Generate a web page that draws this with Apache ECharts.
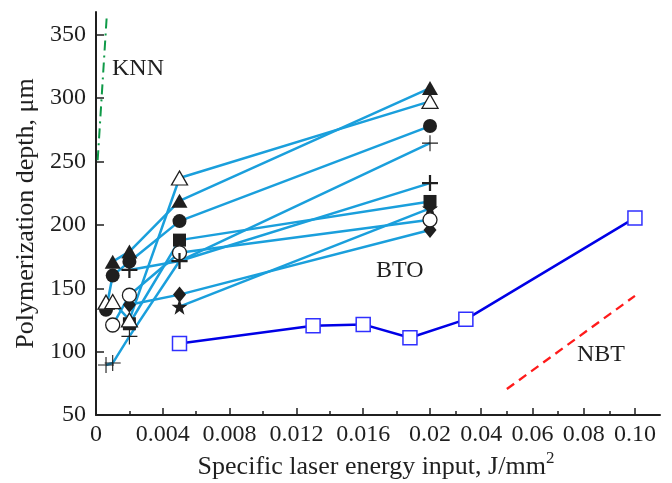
<!DOCTYPE html>
<html>
<head>
<meta charset="utf-8">
<script src="https://cdn.jsdelivr.net/npm/echarts@6/dist/echarts.min.js"></script>
<style>
html, body { margin: 0; padding: 0; background: #fff; }
#chart { width: 672px; height: 483px; }
</style>
</head>
<body>
<div id="chart"></div>
<script>
// axis ticks (x axis is broken: fine scale up to 0.02, coarse after)
var xTicks = [0, 0.004, 0.008, 0.012, 0.016, 0.02, 0.04, 0.06, 0.08, 0.10];
var xMinor = [0.002, 0.006, 0.01, 0.014, 0.018, 0.03, 0.05, 0.07, 0.09];
var yTicks = [50, 100, 150, 200, 250, 300, 350];

// BTO series, [energy J/mm2, depth um]
var btoFilledTriangle = [[0.001, 171], [0.002, 179], [0.005, 219], [0.02, 308]];
var btoOpenTriangle = [[0.0006, 139], [0.001, 139.5], [0.002, 125], [0.005, 237], [0.02, 297.5]];
var btoFilledCircle = [[0.0006, 133], [0.001, 160], [0.002, 171], [0.005, 203], [0.02, 278]];
var btoOpenCircle = [[0.001, 121], [0.002, 144.5], [0.005, 178], [0.02, 204]];
var btoFilledSquare = [[0.002, 122], [0.005, 188], [0.02, 218.5]];
var btoBoldPlus = [[0.002, 164.5], [0.005, 171.5], [0.02, 233]];
var btoThinPlus = [[0.0006, 89.5], [0.001, 91], [0.002, 112], [0.005, 171.5], [0.02, 264.5]];
var btoDiamond = [[0.002, 137], [0.005, 145], [0.02, 196]];
var btoStar = [[0.005, 135.5], [0.02, 213]];

// NBT measured and trend, KNN trend
var nbtMeasured = [[0.005, 106.5], [0.013, 120.5], [0.016, 121.5], [0.0188, 111], [0.034, 125.5], [0.10, 205.5]];
var nbtTrend = [[0.05, 70.5], [0.10, 144]];
var knnTrend = [[0.0001, 251], [0.00065, 366]];

// broken x scale: one axis unit = 0.004 below 0.02, above it 0.02 takes 0.767 units
var BREAK = 0.02, FINE = 0.004, COARSE = 0.02 / 0.767;
function toAxis(x) {
  return x <= BREAK ? x / FINE : BREAK / FINE + (x - BREAK) / COARSE;
}
function fromAxis(u) {
  return u <= BREAK / FINE ? u * FINE : BREAK + (u - BREAK / FINE) * COARSE;
}
function mapData(arr) {
  return arr.map(function (p) { return [toAxis(p[0]), p[1]]; });
}

var ink = '#1f1f1f';
var serif = 'Liberation Serif';
var thinPlus = 'path://M0,9.3h20v1.4h-20z M9.3,0h1.4v20h-1.4z';
var boldPlus = 'path://M0,8.6h20v2.8h-20z M8.6,0h2.8v20h-2.8z';
var star = 'path://M10,0L12.35,6.76L19.51,6.91L13.8,11.24L15.88,18.09L10,14L4.12,18.09L6.2,11.24L0.49,6.91L7.65,6.76Z';

var btoSets = [
  { data: btoThinPlus, symbol: thinPlus, size: 16, open: false },
  { data: btoStar, symbol: star, size: 16, open: false },
  { data: btoDiamond, symbol: 'diamond', size: [13, 16], open: false },
  { data: btoFilledSquare, symbol: 'rect', size: 13, open: false },
  { data: btoOpenCircle, symbol: 'circle', size: 14, open: true },
  { data: btoBoldPlus, symbol: boldPlus, size: 16, open: false },
  { data: btoFilledCircle, symbol: 'circle', size: 14, open: false },
  { data: btoOpenTriangle, symbol: 'triangle', size: [16, 14], open: true },
  { data: btoFilledTriangle, symbol: 'triangle', size: [16, 14], open: false }
];

var myChart = echarts.init(document.getElementById('chart'));

var series = [];
btoSets.forEach(function (s) {
  series.push({
    type: 'line', data: mapData(s.data),
    symbol: 'none', clip: false, z: 2,
    lineStyle: { color: '#1a9fdc', width: 2.5 }
  });
});
btoSets.forEach(function (s) {
  series.push({
    type: 'scatter', data: mapData(s.data),
    symbol: s.symbol, symbolSize: s.size, clip: false, z: 4,
    itemStyle: s.open
      ? { color: '#fff', borderColor: ink, borderWidth: 1.3, opacity: 1 }
      : { color: ink, opacity: 1 }
  });
});
series.push({
  type: 'line', data: mapData(nbtMeasured),
  symbol: 'rect', symbolSize: 14, clip: false, z: 3,
  lineStyle: { color: '#0000e6', width: 2.5 },
  itemStyle: { color: '#fff', borderColor: '#3030ff', borderWidth: 1.5 }
});
series.push({
  type: 'line', data: mapData(nbtTrend),
  symbol: 'none', clip: false,
  lineStyle: { color: '#ff1a1a', width: 2.3, type: [9, 6] }
});
series.push({
  type: 'line', data: mapData(knnTrend),
  symbol: 'none', clip: false,
  lineStyle: { color: '#0f9a48', width: 2, type: [10, 5, 2, 5] }
});

var labelStyle = { color: ink, fontFamily: serif, fontSize: 24 };
var tickLine = { color: ink, width: 1.5 };

var option = {
  animation: false,
  backgroundColor: '#fff',
  grid: { left: 96, top: 12, width: 564, height: 403 },
  xAxis: [
    {
      type: 'value', position: 'bottom', min: 0, max: 564 / 66.8,
      axisLine: { show: true, onZero: false, lineStyle: { color: ink, width: 2 } },
      splitLine: { show: false },
      axisTick: { inside: true, length: 7, lineStyle: tickLine, customValues: xTicks.map(toAxis) },
      axisLabel: Object.assign({}, labelStyle, {
        margin: 8,
        customValues: xTicks.map(toAxis),
        formatter: function (u) {
          var x = fromAxis(u);
          if (x < 1e-9) return '0';
          return x <= BREAK + 1e-9 ? String(+x.toFixed(3)) : x.toFixed(2);
        }
      })
    },
    {
      type: 'value', position: 'bottom', min: 0, max: 564 / 66.8,
      axisLine: { show: false }, splitLine: { show: false }, axisLabel: { show: false },
      axisTick: { inside: true, length: 4, lineStyle: tickLine, customValues: xMinor.map(toAxis) }
    }
  ],
  yAxis: {
    type: 'value', min: 50, max: 368,
    name: 'Polymerization depth, μm', nameLocation: 'middle', nameGap: 57,
    nameTextStyle: { color: ink, fontFamily: serif, fontSize: 26 },
    axisLine: { show: true, onZero: false, lineStyle: { color: ink, width: 2 } },
    splitLine: { show: false },
    axisTick: { inside: true, length: 8, lineStyle: tickLine, customValues: yTicks },
    axisLabel: Object.assign({}, labelStyle, { customValues: yTicks, margin: 10 })
  },
  graphic: [
    { type: 'text', left: 112, top: 57, style: { text: 'KNN', fill: ink, font: '24px "Liberation Serif"' } },
    { type: 'text', left: 376, top: 259, style: { text: 'BTO', fill: ink, font: '24px "Liberation Serif"' } },
    { type: 'text', left: 577, top: 343, style: { text: 'NBT', fill: ink, font: '24px "Liberation Serif"' } },
    {
      type: 'text', x: 376, y: 450,
      style: {
        text: '{a|Specific laser energy input, J/mm}{s|2}',
        textAlign: 'center',
        rich: {
          a: { fill: ink, fontFamily: serif, fontSize: 26, verticalAlign: 'bottom', lineHeight: 30 },
          s: { fill: ink, fontFamily: serif, fontSize: 17, verticalAlign: 'top', lineHeight: 26 }
        }
      }
    }
  ],
  series: series
};

myChart.clear();
myChart.resize();
myChart.setOption(option);
</script>
</body>
</html>
